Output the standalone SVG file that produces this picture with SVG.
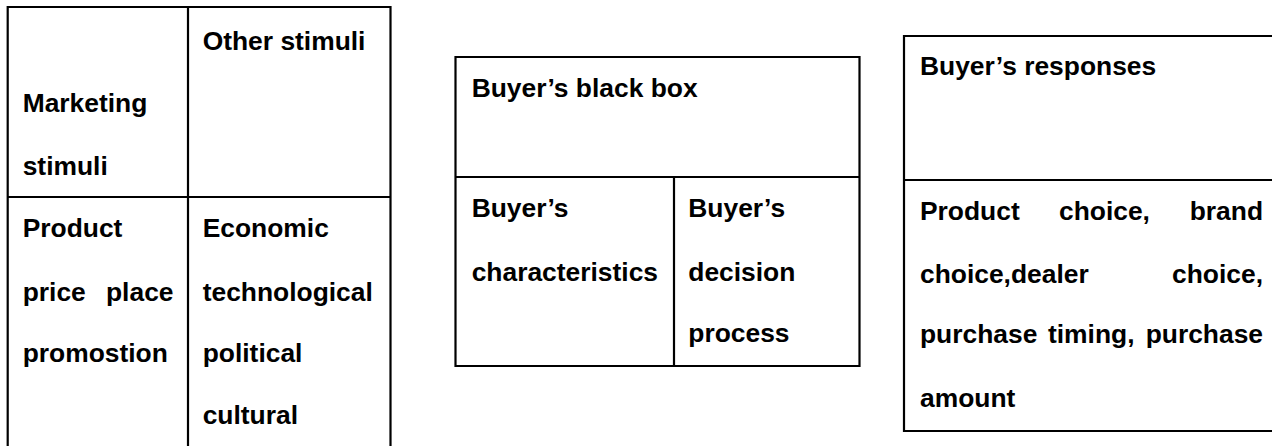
<svg xmlns="http://www.w3.org/2000/svg" width="1272" height="446" viewBox="0 0 1272 446">
<style>
.ln{stroke:#000;stroke-width:2.2;fill:none;stroke-linecap:square}
.t{font-family:"Liberation Sans",Arial,sans-serif;font-weight:bold;font-size:26.4px;fill:#000}
</style>
<rect width="1272" height="446" fill="#fff"/>
<g id="stimuli">
<path class="ln" d="M7.7,450 V7 H390.5 V450 M188,7 V450 M7.7,197 H390.5"/>
<text class="t" x="22.7" y="112">Marketing</text>
<text class="t" x="22.7" y="175">stimuli</text>
<text class="t" x="202.7" y="50">Other stimuli</text>
<text class="t" x="22.7" y="237">Product</text>
<text class="t" y="301"><tspan x="22.7">price</tspan><tspan x="106">place</tspan></text>
<text class="t" x="22.7" y="362">promostion</text>
<text class="t" x="202.7" y="237">Economic</text>
<text class="t" x="202.7" y="301">technological</text>
<text class="t" x="202.7" y="362">political</text>
<text class="t" x="202.7" y="424">cultural</text>
</g>
<g id="black-box">
<path class="ln" d="M455.5,57 H859.5 V366 H455.5 Z M455.5,177 H859.5 M674,177 V366"/>
<text class="t" x="471.7" y="97">Buyer’s black box</text>
<text class="t" x="471.7" y="217">Buyer’s</text>
<text class="t" x="471.7" y="281">characteristics</text>
<text class="t" x="688.3" y="217">Buyer’s</text>
<text class="t" x="688.3" y="281">decision</text>
<text class="t" x="688.3" y="342">process</text>
</g>
<g id="responses">
<path class="ln" d="M1280,36 H904 V431 H1280 M904,180 H1280"/>
<text class="t" x="920" y="75">Buyer’s responses</text>
<text class="t" y="220"><tspan x="920">Product</tspan><tspan x="1059">choice,</tspan><tspan x="1263" text-anchor="end">brand</tspan></text>
<text class="t" y="283"><tspan x="920">choice,dealer</tspan><tspan x="1263" text-anchor="end">choice,</tspan></text>
<text class="t" y="343"><tspan x="920">purchase</tspan><tspan x="1048">timing,</tspan><tspan x="1263" text-anchor="end">purchase</tspan></text>
<text class="t" x="920" y="407">amount</text>
</g>
<g id="connectors"/>
</svg>
